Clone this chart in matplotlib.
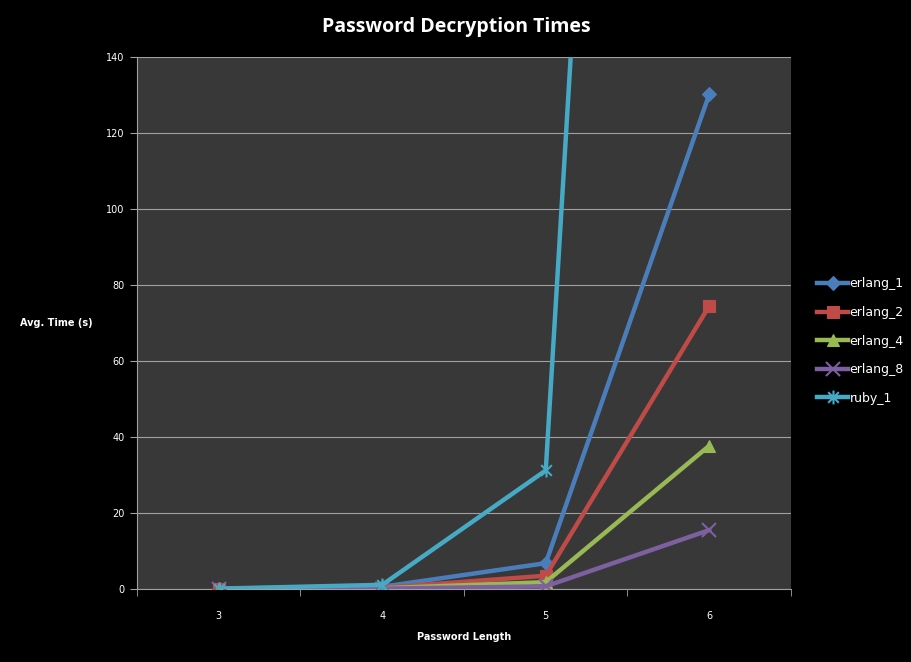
import numpy as np
import matplotlib.pyplot as plt
from matplotlib.path import Path

lengths = [3, 4, 5, 6]
series_names = ["erlang_1", "erlang_2", "erlang_4", "erlang_8", "ruby_1"]
erlang_1 = [0.1, 0.6, 6.8, 130.2]
erlang_2 = [0.05, 0.3, 3.5, 74.5]
erlang_4 = [0.03, 0.2, 1.8, 37.7]
erlang_8 = [0.02, 0.1, 0.7, 15.5]
ruby_1 = [0.1, 1.1, 31.2, 745.0]

# x with a vertical bar, like the Excel asterisk marker
star = Path([(-1, -1), (1, 1), (-1, 1), (1, -1), (0, -1.3), (0, 1.3)],
            [Path.MOVETO, Path.LINETO, Path.MOVETO, Path.LINETO, Path.MOVETO, Path.LINETO])

colors = ["#4A7EBB", "#BE4B48", "#98B954", "#7D60A0", "#46AAC5"]
markers = ["D", "s", "^", "x", star]
msizes = [7, 9, 9, 10, 10]

fig = plt.figure(figsize=(9.12, 6.62), dpi=100, facecolor="black")
ax = fig.add_axes([137 / 912, 1 - 589 / 662, (791 - 137) / 912, (589 - 57) / 662])
ax.set_facecolor("#383838")

x = np.arange(len(lengths))
for i, (name, vals) in enumerate(zip(series_names,
                                     [erlang_1, erlang_2, erlang_4, erlang_8, ruby_1])):
    ax.plot(x, vals, color=colors[i], lw=3.2, marker=markers[i], markersize=msizes[i],
            markeredgecolor=colors[i], markeredgewidth=1.5 if i >= 3 else 0.8,
            label=name, zorder=3)

ax.set_xlim(-0.5, len(lengths) - 0.5)
ax.set_ylim(0, 140)
ax.set_yticks(np.arange(0, 141, 20))
ax.set_xticks(x)
ax.set_xticklabels([str(v) for v in lengths])
ax.set_xticks(np.arange(-0.5, len(lengths), 1), minor=True)
ax.tick_params(axis="x", which="major", length=0, pad=16, colors="white", labelsize=7)
ax.tick_params(axis="x", which="minor", length=5, color="#a0a0a0", direction="out")
ax.tick_params(axis="y", length=5, color="#a0a0a0", colors="white", labelsize=7, pad=4)

ax.grid(axis="y", color="#a0a0a0", lw=0.8)
ax.set_axisbelow(True)
for s in ["top", "right"]:
    ax.spines[s].set_visible(False)
ax.spines["left"].set_color("#a0a0a0")
ax.spines["bottom"].set_color("#a0a0a0")

fig.text(0.5, 1 - 27 / 662, "Password Decryption Times", ha="center", va="center",
         color="white", fontsize=14, fontweight="bold", family="Open Sans",
         fontstretch="condensed")
fig.text(20 / 912, 1 - 323 / 662, "Avg. Time (s)", ha="left", va="center",
         color="white", fontsize=7, fontweight="bold")
fig.text(464 / 912, 1 - 637 / 662, "Password Length", ha="center", va="center",
         color="white", fontsize=7, fontweight="bold")

leg = fig.legend(loc="center left", bbox_to_anchor=(806 / 912, 1 - 341 / 662),
                 frameon=False, fontsize=9, labelspacing=1.25, handlelength=2.5,
                 handletextpad=0.1)
for t in leg.get_texts():
    t.set_color("white")

fig.savefig("out.png", dpi=100, facecolor="black")
